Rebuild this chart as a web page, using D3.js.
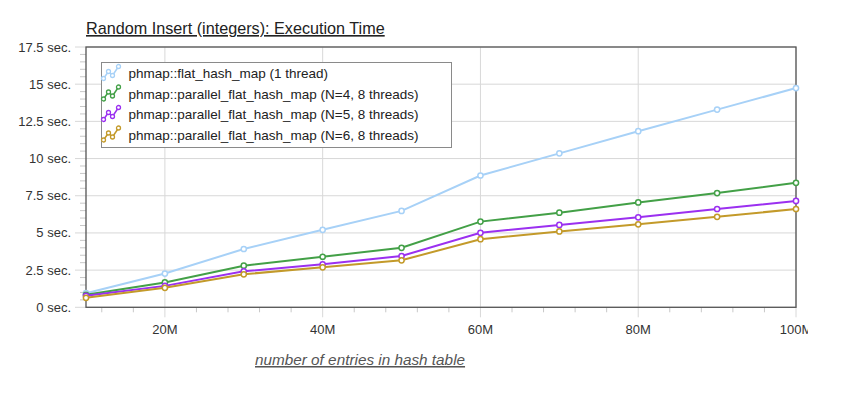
<!DOCTYPE html>
<html>
<head>
<meta charset="utf-8">
<script src="https://cdn.jsdelivr.net/npm/d3@7"></script>
<style>
  body { margin: 0; background: #fff; }
  svg { font-family: "Liberation Sans", Arial, sans-serif; display: block; }
</style>
</head>
<body>
<div id="chart"></div>
<script>
// data
const entries = [10, 20, 30, 40, 50, 60, 70, 80, 90, 100]; // millions
const seriesNames = [
  'phmap::flat_hash_map (1 thread)',
  'phmap::parallel_flat_hash_map (N=4, 8 threads)',
  'phmap::parallel_flat_hash_map (N=5, 8 threads)',
  'phmap::parallel_flat_hash_map (N=6, 8 threads)',
];
const flat1 = [0.95, 2.27, 3.92, 5.21, 6.48, 8.86, 10.35, 11.84, 13.29, 14.74];
const par4 = [0.84, 1.67, 2.80, 3.40, 4.00, 5.76, 6.36, 7.05, 7.68, 8.37];
const par5 = [0.77, 1.44, 2.42, 2.89, 3.45, 5.01, 5.54, 6.05, 6.61, 7.15];
const par6 = [0.64, 1.31, 2.22, 2.69, 3.16, 4.58, 5.10, 5.58, 6.08, 6.61];
const yTicks = [0, 2.5, 5, 7.5, 10, 12.5, 15, 17.5];
const xTicks = [20, 40, 60, 80, 100];
const colors = ['#a7d1f7', '#43a047', '#9b30f0', '#c39a2a'];

const allSeries = [flat1, par4, par5, par6];

// set the dimensions and margins of the graph
const margin = { top: 47, right: 56, bottom: 88, left: 86 };
const width = 852 - margin.left - margin.right;
const height = 396 - margin.top - margin.bottom;

// svg is narrower than the window, so the last x label gets cut like in the original
const svg = d3
  .select('#chart')
  .append('svg')
  .attr('width', 808)
  .attr('height', 396)
  .style('overflow', 'hidden');

const g = svg
  .append('g')
  .attr('transform', `translate(${margin.left},${margin.top})`);

const x = d3.scaleLinear().domain([10, 100]).range([0, 710]);
const y = d3.scaleLinear().domain([0, 17.5]).range([height - 0.7, 0]);

// title
svg
  .append('text')
  .attr('x', 86)
  .attr('y', 34)
  .style('font-size', '16.2px')
  .style('fill', '#222')
  .style('text-decoration', 'underline')
  .text('Random Insert (integers): Execution Time');

// grid lines
g.append('g')
  .selectAll('line')
  .data(yTicks)
  .join('line')
  .attr('x1', -11)
  .attr('x2', x(100))
  .attr('y1', (d) => y(d))
  .attr('y2', (d) => y(d))
  .attr('stroke', '#d8d8d8');

g.append('g')
  .selectAll('line')
  .data(xTicks)
  .join('line')
  .attr('x1', (d) => x(d))
  .attr('x2', (d) => x(d))
  .attr('y1', 0)
  .attr('y2', y(0) + 10)
  .attr('stroke', '#d8d8d8');

// minor ticks
g.append('g')
  .selectAll('line')
  .data(d3.range(0, 17.5, 0.5).filter((d) => d % 2.5 !== 0))
  .join('line')
  .attr('x1', -6)
  .attr('x2', 0)
  .attr('y1', (d) => y(d))
  .attr('y2', (d) => y(d))
  .attr('stroke', '#c8c8c8');

g.append('g')
  .selectAll('line')
  .data(d3.range(12, 100, 4).filter((d) => d % 20 !== 0))
  .join('line')
  .attr('x1', (d) => x(d))
  .attr('x2', (d) => x(d))
  .attr('y1', y(0))
  .attr('y2', y(0) + 5)
  .attr('stroke', '#c8c8c8');

// Y axis labels
g.append('g')
  .selectAll('text')
  .data(yTicks)
  .join('text')
  .attr('x', -15)
  .attr('y', (d) => y(d))
  .attr('dy', '0.35em')
  .attr('text-anchor', 'end')
  .style('font-size', '13px')
  .style('fill', '#333')
  .text((d) => `${d} sec.`);

// X axis labels
g.append('g')
  .selectAll('text')
  .data(xTicks)
  .join('text')
  .attr('x', (d) => x(d))
  .attr('y', y(0) + 27)
  .attr('text-anchor', 'middle')
  .style('font-size', '13px')
  .style('fill', '#333')
  .text((d) => `${d}M`);

// frame
g.append('rect')
  .attr('x', 0)
  .attr('y', 0)
  .attr('width', x(100))
  .attr('height', y(0))
  .attr('fill', 'none')
  .attr('stroke', '#555')
  .attr('stroke-width', 1.3);

// x label
svg
  .append('text')
  .attr('x', 255)
  .attr('y', 365)
  .style('font-size', '15.3px')
  .style('font-style', 'italic')
  .style('fill', '#555')
  .style('text-decoration', 'underline')
  .text('number of entries in hash table');

// lines
const line = d3
  .line()
  .x((d, i) => x(entries[i]))
  .y((d) => y(d));

allSeries.forEach((vals, k) => {
  const s = g.append('g');
  s.append('path')
    .datum(vals)
    .attr('d', line)
    .attr('fill', 'none')
    .attr('stroke', colors[k])
    .attr('stroke-width', 2);
  s.selectAll('circle')
    .data(vals)
    .join('circle')
    .attr('cx', (d, i) => x(entries[i]))
    .attr('cy', (d) => y(d))
    .attr('r', 2.6)
    .attr('fill', '#fff')
    .attr('stroke', colors[k])
    .attr('stroke-width', 1.5);
});

// legend
const legend = svg.append('g').attr('transform', 'translate(101.5,62.5)');
legend
  .append('rect')
  .attr('width', 350)
  .attr('height', 85)
  .attr('fill', '#fff')
  .attr('stroke', '#8a8a8a');

const icon = [[2, 13], [7, 6], [11, 10], [17, 1]];
seriesNames.forEach((name, k) => {
  const row = legend.append('g').attr('transform', `translate(0,${3 + k * 20.5})`);
  row.append('path')
    .attr('d', d3.line()(icon))
    .attr('fill', 'none')
    .attr('stroke', colors[k])
    .attr('stroke-width', 1.5);
  row.selectAll('circle')
    .data(icon)
    .join('circle')
    .attr('cx', (d) => d[0])
    .attr('cy', (d) => d[1])
    .attr('r', 2)
    .attr('fill', '#fff')
    .attr('stroke', colors[k])
    .attr('stroke-width', 1.3);
  row.append('text')
    .attr('x', 27)
    .attr('y', 12.5)
    .style('font-size', '13.5px')
    .style('fill', '#222')
    .text(name);
});
</script>
</body>
</html>
